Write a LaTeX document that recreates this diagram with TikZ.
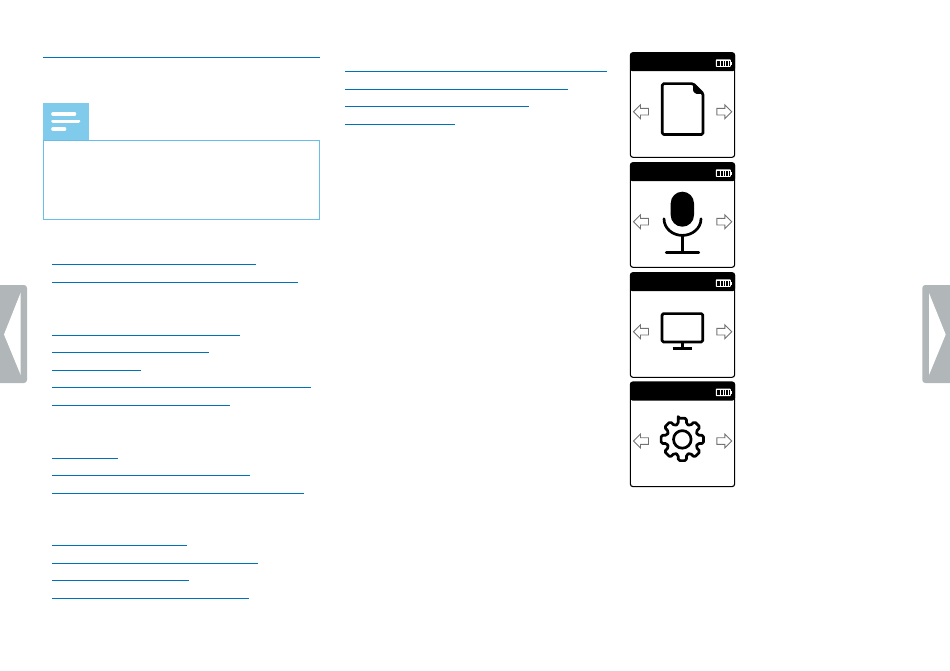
\documentclass[tikz,border=0pt]{standalone}
\definecolor{linkblue}{RGB}{0,114,186}
\definecolor{noteblue}{RGB}{128,202,236}
\definecolor{noteline}{RGB}{104,190,232}
\definecolor{tabgrey}{RGB}{177,182,185}
\tikzset{
  linkrule/.style={draw=linkblue,line width=1.3pt},
  screen/.style={draw=black,line width=1.1pt,rounded corners=2.5pt},
  arrowicon/.style={draw=black!55,line width=.9pt,fill=white,line join=miter},
  iconline/.style={draw=black,line width=2.7pt,line join=round,line cap=round},
  tabshape/.style={fill=tabgrey,draw=none},
}
\begin{document}
\begin{tikzpicture}[x=1pt,y=-1pt]
\useasboundingbox(0,0)rectangle(950,670);
%side tabs
\fill[tabshape,rounded corners=3pt](-5,285)--++(32,0)--++(0,98)--++(-32,0)--cycle;
\fill[white](4,334.5)--(20.7,292.5)--(20.7,375)--cycle;
\fill[tabshape,rounded corners=3pt](955,285)--++(-32.7,0)--++(0,98)--++(32.7,0)--cycle;
\fill[white](945.7,334.5)--(929,293)--(929,375)--cycle;
%left column
\draw[linkrule](43,57.3)--(320,57.3);
\foreach \ky/\kend in {264.3/256,282.3/297.7,335.3/239.7,352.3/208.5,370.3/141.3,387.3/310.7,405.3/229.7,458.3/117.7,475.3/250.3,493.3/304,545.3/187.3,563.3/258,580.3/189,598.3/249}
  \draw[linkrule](52,\ky)--(\kend,\ky);
%right column
\foreach \ky/\kend in {71.3/606.7,89.3/568.3,106.3/529,124.3/454.7}
  \draw[linkrule](345,\ky)--(\kend,\ky);
%note
\fill[noteblue](43.3,102.7)rectangle(88.7,140);
\foreach \ky/\kend in {114/76,121.3/80,129/66}
  \draw[white,line width=3.6pt,line cap=round](53,\ky)--(\kend-1.5,\ky);
\draw[noteline,line width=1.1pt](43.5,140.2)rectangle(319.5,219.5);
%screens
\foreach \ky in {52.7,162.7,272.7,382}{
  \fill[black,rounded corners=2.5pt](630,\ky)--++(105,0)--++(0,10)--++(0,8.5)--++(-105,0)--cycle;
  \draw[screen](630.4,\ky)rectangle(734.6,\ky+104.6);
  %battery
  \fill[white,rounded corners=.8pt](715.8,\ky+6.6)rectangle++(15,7.6);
  \fill[white](730.8,\ky+8.8)rectangle++(1.2,3.2);
  \fill[black](717,\ky+8)rectangle++(12.6,4.8);
  \foreach \kn in {0,1,2,3}
    \fill[white](719.8+\kn*2.8,\ky+8)rectangle++(.8,4.8);
  %arrows
  \draw[arrowicon](633.5,\ky+59)--++(7,-7)--++(0,3.7)--++(8,0)--++(0,6.6)--++(-8,0)--++(0,3.7)--cycle;
  \draw[arrowicon](731.8,\ky+59)--++(-7,-7)--++(0,3.7)--++(-8,0)--++(0,6.6)--++(8,0)--++(0,3.7)--cycle;
}
%document
\draw[iconline,rounded corners=1.5pt](662.3,83.6)--(693,83.6)--(703,93.5)--(703,134.5)--(662.3,134.5)--cycle;
\fill[black,rounded corners=1pt](693,82.3)--(704.3,93.8)--(695.5,93.8)--(693,91)--cycle;
%microphone
\fill[black,rounded corners=11.6pt](670.7,191.7)rectangle(694,226.7);
\draw[iconline](664,218.8)to[out=-90,in=180](682.3,235.4)to[out=0,in=-90](701,218.8);
\draw[iconline,line cap=butt](682.3,235.4)--(682.3,252);
\draw[iconline](666.2,252.5)--(698.8,252.5);
%monitor
\draw[iconline,rounded corners=1.5pt](662,313.6)rectangle(702.8,342);
\draw[iconline,line cap=butt](682.3,343)--(682.3,348);
\draw[iconline,line cap=butt](672.7,348.3)--(691.7,348.3);
%gear
\pgfmathsetmacro{\kgx}{682.3}
\pgfmathsetmacro{\kgy}{439.4}
\pgfmathsetmacro{\kro}{21.6}
\pgfmathsetmacro{\kri}{15.8}
\draw[iconline,rounded corners=1.6pt]
  ({\kgx+\kro*sin(-11)},{\kgy-\kro*cos(-11)})
  \foreach \ka in {0,45,...,315}{
    --({\kgx+\kro*sin(\ka-11)},{\kgy-\kro*cos(\ka-11)})
    --({\kgx+\kro*sin(\ka+11)},{\kgy-\kro*cos(\ka+11)})
    --({\kgx+\kri*sin(\ka+15)},{\kgy-\kri*cos(\ka+15)})
    --({\kgx+\kri*sin(\ka+30)},{\kgy-\kri*cos(\ka+30)})
  }--cycle;
\draw[iconline](\kgx,\kgy)circle(8.8);
\end{tikzpicture}
\end{document}
